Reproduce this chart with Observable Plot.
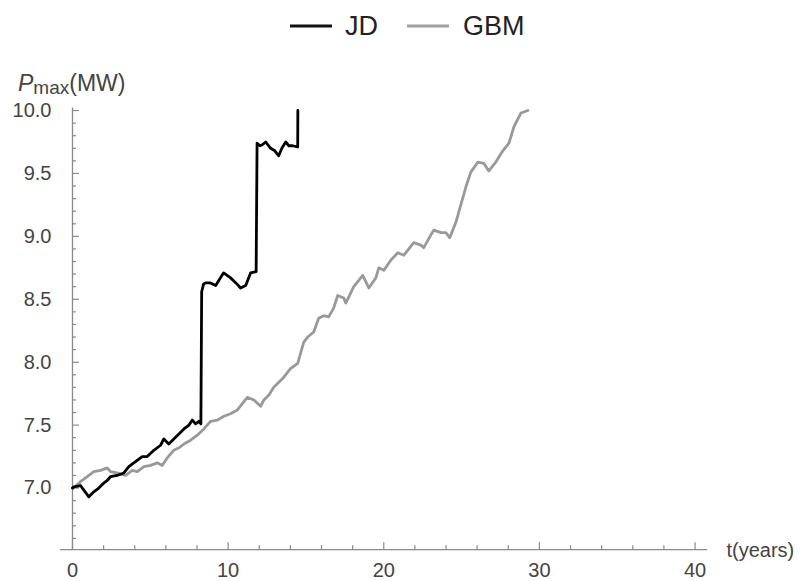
<!DOCTYPE html>
<html>
<head>
<meta charset="utf-8">
<script src="https://cdn.jsdelivr.net/npm/d3@7"></script>
<script src="https://cdn.jsdelivr.net/npm/@observablehq/plot@0.6"></script>
<style>
  body { margin: 0; background: white; }
  #wrap { width: 802px; font-family: "Liberation Sans", Arial, sans-serif; }
  svg { display: block; }
</style>
</head>
<body>
<div id="wrap">
  <svg id="legend" width="802" height="50" style="font-family: 'Liberation Sans', Arial, sans-serif">
    <line x1="290" x2="332" y1="26" y2="26" stroke="#111" stroke-width="3"></line>
    <text x="345" y="35" font-size="27" fill="#222">JD</text>
    <line x1="407" x2="449" y1="26" y2="26" stroke="#a0a0a0" stroke-width="3"></line>
    <text x="463" y="35" font-size="27" fill="#222">GBM</text>
  </svg>
  <div id="chart"></div>
</div>
<script>
// ---- data ----
const seriesNames = ["JD", "GBM"];

const jdT = [0.00, 0.08, 0.51, 1.05, 1.37, 1.69, 2.01, 2.23, 2.44, 2.87, 3.30, 3.62, 4.05, 4.48, 4.80, 5.23,
             5.66, 5.87, 6.19, 6.51, 6.84, 7.16, 7.48, 7.70, 7.91, 8.12, 8.25,
             8.30, 8.42, 8.55, 8.87, 9.20, 9.45, 9.71, 10.16, 10.50, 10.80, 11.13, 11.45, 11.80,
             11.86, 12.05, 12.22, 12.41, 12.73, 13.00, 13.25, 13.45, 13.70, 13.90, 14.15, 14.47, 14.48];
const jdV = [7.00, 7.01, 7.02, 6.93, 6.97, 7.00, 7.04, 7.06, 7.09, 7.10, 7.12, 7.17, 7.21, 7.25, 7.25, 7.30,
             7.34, 7.39, 7.35, 7.39, 7.43, 7.47, 7.50, 7.54, 7.51, 7.53, 7.51,
             8.56, 8.62, 8.63, 8.63, 8.61, 8.66, 8.71, 8.67, 8.63, 8.59, 8.61, 8.71, 8.72,
             9.74, 9.72, 9.73, 9.75, 9.70, 9.68, 9.64, 9.70, 9.75, 9.72, 9.72, 9.71, 10.00];

const gbmT = [0.00, 0.08, 0.51, 0.95, 1.37, 1.80, 2.23, 2.44, 2.87, 3.41, 3.84, 4.16, 4.59, 5.02, 5.45, 5.77,
              6.09, 6.51, 6.84, 7.16, 7.59, 8.02, 8.44, 8.87, 9.31, 9.73, 10.16, 10.59, 10.91, 11.23,
              11.66, 12.09, 12.30, 12.62, 12.93, 13.50, 14.02, 14.47,
              14.86, 15.11, 15.50, 15.82, 16.14, 16.46, 16.78, 17.04, 17.43, 17.56, 18.07, 18.65, 19.04,
              19.49, 19.68, 20.00, 20.45, 20.90, 21.29, 21.93, 22.38, 22.57, 23.02, 23.22, 23.67, 23.99,
              24.24, 24.63, 24.95, 25.27, 25.59, 26.05, 26.43, 26.75, 27.20, 27.65, 28.04, 28.36, 28.81, 29.26];
const gbmV = [7.00, 7.00, 7.05, 7.09, 7.13, 7.14, 7.16, 7.13, 7.12, 7.10, 7.14, 7.13, 7.17, 7.18, 7.20, 7.18,
              7.24, 7.30, 7.32, 7.35, 7.38, 7.42, 7.47, 7.53, 7.54, 7.57, 7.59, 7.62, 7.67, 7.72,
              7.70, 7.65, 7.70, 7.74, 7.80, 7.87, 7.95, 7.99,
              8.16, 8.20, 8.24, 8.35, 8.37, 8.36, 8.43, 8.53, 8.51, 8.47, 8.60, 8.69, 8.59,
              8.67, 8.75, 8.73, 8.81, 8.87, 8.85, 8.95, 8.93, 8.91, 9.01, 9.05, 9.03, 9.03,
              8.99, 9.11, 9.25, 9.39, 9.51, 9.59, 9.58, 9.52, 9.59, 9.68, 9.74, 9.87, 9.98, 10.00];

const xTicks = [0, 10, 20, 30, 40];
const xMinorTicks = [2, 4, 6, 8, 12, 14, 16, 18, 22, 24, 26, 28, 32, 34, 36, 38];
const yTicks = [7.0, 7.5, 8.0, 8.5, 9.0, 9.5, 10.0];
const yMinorTicks = [6.6, 6.7, 6.8, 6.9, 7.1, 7.2, 7.3, 7.4, 7.6, 7.7, 7.8, 7.9, 8.1, 8.2, 8.3, 8.4,
                     8.6, 8.7, 8.8, 8.9, 9.1, 9.2, 9.3, 9.4, 9.6, 9.7, 9.8, 9.9];

// ---- build tables ----
const jd = jdT.map((t, i) => ({t, v: jdV[i], s: seriesNames[0]}));
const gbm = gbmT.map((t, i) => ({t, v: gbmV[i], s: seriesNames[1]}));

const xMin = -0.77, xMax = 40.8, yMin = 6.51, yMax = 10.02;
const axisColor = "#8a8a8a";
const textColor = "#444";
const pxX = 647 / (xMax - xMin);   // pixels per x unit
const pxY = 441.7 / (yMax - yMin); // pixels per y unit

const chart = Plot.plot({
  width: 802,
  height: 531,
  marginLeft: 60,
  marginRight: 95,
  marginTop: 57.5,
  marginBottom: 31.8,
  x: {domain: [xMin, xMax]},
  y: {domain: [yMin, yMax]},
  style: {fontFamily: "'Liberation Sans', Arial, sans-serif", background: "white", overflow: "visible"},
  marks: [
    Plot.axisX({ticks: xTicks, tickSize: 0, tickPadding: 13, fontSize: 20, fill: textColor, label: null}),
    Plot.axisY({ticks: yTicks, tickSize: 0, tickPadding: 9, fontSize: 20, fill: textColor, label: null,
                tickFormat: d3.format(".1f")}),
    // axis lines
    Plot.ruleY([yMin], {x1: xMin, x2: xMax, stroke: axisColor, strokeWidth: 1.3}),
    Plot.ruleX([0], {y1: yMin, y2: yMax, stroke: axisColor, strokeWidth: 1.3}),
    // x ticks (pointing inward)
    Plot.ruleX(xTicks, {x: d => d, y1: yMin, y2: yMin + 7 / pxY, stroke: axisColor, strokeWidth: 1.2}),
    Plot.ruleX(xMinorTicks, {x: d => d, y1: yMin, y2: yMin + 4 / pxY, stroke: axisColor, strokeWidth: 1.2}),
    // y ticks
    Plot.ruleY(yTicks, {y: d => d, x1: 0, x2: 7 / pxX, stroke: axisColor, strokeWidth: 1.2}),
    Plot.ruleY(yMinorTicks, {y: d => d, x1: 0, x2: 4 / pxX, stroke: axisColor, strokeWidth: 1.2}),
    // series
    Plot.line(gbm, {x: "t", y: "v", stroke: "#999999", strokeWidth: 2.8, strokeLinejoin: "round"}),
    Plot.line(jd, {x: "t", y: "v", stroke: "#000000", strokeWidth: 2.8, strokeLinejoin: "round"}),
    // x axis title
    Plot.text(["t(years)"], {x: () => xMax, y: () => yMin, text: d => d, dx: 19, dy: 1,
                             textAnchor: "start", fontSize: 20, fill: textColor})
  ]
});

document.getElementById("chart").appendChild(chart);

// y axis title with subscript
const svg = d3.select(chart);
const lab = svg.append("text")
  .attr("x", 18).attr("y", 41)
  .attr("text-anchor", "start")
  .attr("fill", textColor)
  .style("font-family", "'Liberation Sans', Arial, sans-serif");
lab.append("tspan").attr("font-size", 23).attr("font-style", "italic").text("P");
lab.append("tspan").attr("font-size", 19).attr("dy", 3).text("max");
lab.append("tspan").attr("font-size", 23).attr("dy", -3).text("(MW)");
</script>
</body>
</html>
